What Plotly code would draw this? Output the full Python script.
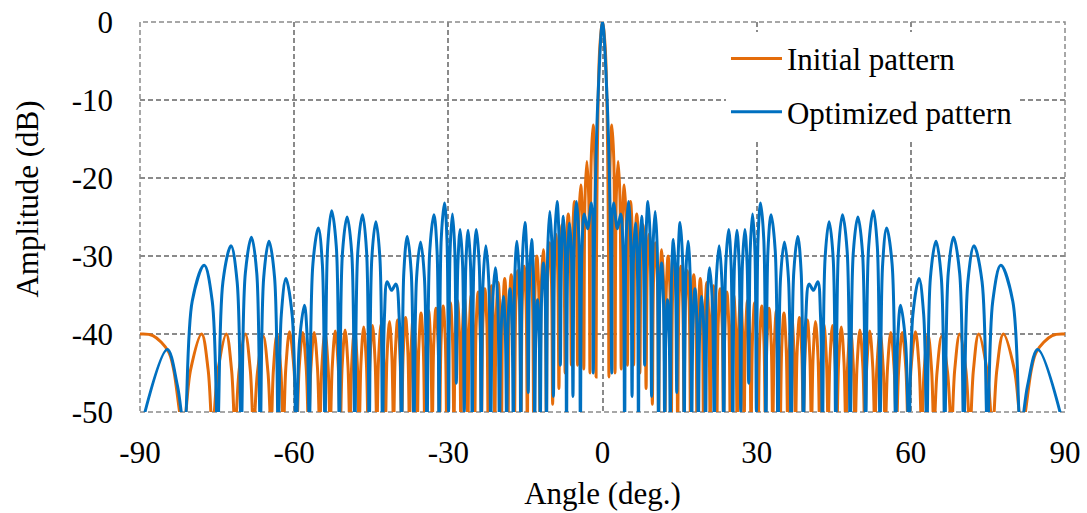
import plotly.graph_objects as go

# ---------------- Initial pattern (orange) ----------------
# lobe-by-lobe readings: shoulder, peak, shoulder, null (angles in deg., levels in dB)
init_angle_neg = [
    -90.0, -87.5, -84.5, -83.5,
    -81.6, -80.16, -78.0, -76.74,
    -75.9, -74.82, -73.2, -72.18,
    -71.5, -70.7, -69.5, -68.54,
    -67.9, -67.14, -66.0, -65.1,
    -64.5, -64.04, -63.35, -62.6,
    -62.1, -61.62, -60.9, -60.05,
    -59.49, -59.03, -58.33, -57.65,
    -57.19, -56.75, -56.1, -55.46,
    -55.03, -54.62, -54.0, -53.39,
    -52.99, -52.59, -52.0, -51.42,
    -51.04, -50.66, -50.09, -49.53,
    -49.16, -48.8, -48.25, -47.71,
    -47.35, -47.0, -46.47, -45.95,
    -45.6, -45.26, -44.75, -44.25,
    -43.91, -43.58, -43.08, -42.59,
    -42.26, -41.94, -41.45, -40.98,
    -40.66, -40.34, -39.87, -39.4,
    -39.09, -38.78, -38.32, -37.86,
    -37.56, -37.26, -36.8, -36.35,
    -36.05, -35.75, -35.31, -34.87,
    -34.58, -34.29, -33.85, -33.42,
    -33.13, -32.84, -32.41, -31.98,
    -31.7, -31.42, -31.0, -30.58,
    -30.3, -30.02, -29.6, -29.19,
    -28.91, -28.64, -28.23, -27.82,
    -27.55, -27.28, -26.87, -26.47,
    -26.2, -25.93, -25.53, -25.13,
    -24.87, -24.6, -24.2, -23.81,
    -23.55, -23.29, -22.89, -22.5,
    -22.24, -21.98, -21.59, -21.21,
    -20.95, -20.69, -20.3, -19.92,
    -19.66, -19.41, -19.03, -18.65,
    -18.39, -18.14, -17.76, -17.38,
    -17.13, -16.88, -16.5, -16.12,
    -15.87, -15.62, -15.25, -14.88,
    -14.63, -14.38, -14.0, -13.63,
    -13.38, -13.14, -12.77, -12.4,
    -12.15, -11.91, -11.54, -11.17,
    -10.92, -10.68, -10.31, -9.94,
    -9.70, -9.46, -9.09, -8.72,
    -8.48, -8.24, -7.87, -7.51,
    -7.27, -7.03, -6.66, -6.3,
    -6.06, -5.82, -5.45, -5.09,
    -4.85, -4.61, -4.24, -3.88,
    -3.64, -3.4, -3.04, -2.68,
    -2.44, -2.2, -1.83, -1.48,
    -1.25, -1.17, -1.05, -0.85, -0.5]
init_db_neg = [
    -40.0, -40.2, -42.2, -44.4,
    -52, -44.6, -40.0, -44.6,
    -52, -44.6, -40.0, -44.6,
    -52, -44.6, -40.0, -44.6,
    -52, -44.9, -40.3, -44.9,
    -52, -44.6, -40.0, -44.6,
    -52, -44.3, -39.7, -44.3,
    -52, -44.4, -39.8, -44.4,
    -52, -44.4, -39.8, -44.4,
    -52, -44.3, -39.7, -44.3,
    -52, -44.2, -39.6, -44.2,
    -52, -44.1, -39.5, -44.1,
    -52, -43.9, -39.3, -43.9,
    -52, -43.7, -39.1, -43.7,
    -52, -43.5, -38.9, -43.5,
    -52, -43.3, -38.7, -43.3,
    -52, -43.0, -38.4, -43.0,
    -52, -42.8, -38.2, -42.8,
    -52, -42.5, -37.9, -42.5,
    -52, -42.2, -37.6, -42.2,
    -52, -41.9, -37.3, -41.9,
    -52, -41.6, -37.0, -41.6,
    -52, -41.3, -36.7, -41.3,
    -52, -41.0, -36.4, -41.0,
    -52, -40.6, -36.0, -40.6,
    -52, -40.3, -35.7, -40.3,
    -52, -40.0, -35.4, -40.0,
    -52, -39.6, -35.0, -39.6,
    -52, -39.2, -34.6, -39.2,
    -52, -38.8, -34.2, -38.8,
    -52, -38.4, -33.8, -38.4,
    -52, -38.0, -33.4, -38.0,
    -52, -37.5, -32.9, -37.5,
    -52, -37.0, -32.4, -37.0,
    -52, -36.5, -31.9, -36.5,
    -52, -35.9, -31.3, -35.9,
    -52, -35.3, -30.7, -35.3,
    -52, -34.6, -30.0, -34.6,
    -52, -33.8, -29.2, -33.8,
    -51, -32.9, -28.3, -32.9,
    -49, -31.8, -27.2, -31.8,
    -47, -30.6, -26.0, -30.6,
    -45, -29.2, -24.6, -29.2,
    -44, -27.6, -23.0, -27.6,
    -44, -25.5, -20.9, -25.5,
    -44.5, -22.5, -17.9, -22.5,
    -45, -17.8, -13.2, -17.8,
    -45.5, -30, -20, -10, -3.0]
init_angle_mid = [0.0]
init_db_mid = [0.0]
init_angle_pos = [
    0.5, 0.85, 1.05, 1.17, 1.25,
    1.48, 1.83, 2.2, 2.44,
    2.68, 3.04, 3.4, 3.64,
    3.88, 4.24, 4.61, 4.85,
    5.09, 5.45, 5.82, 6.06,
    6.3, 6.66, 7.03, 7.27,
    7.51, 7.87, 8.24, 8.48,
    8.72, 9.09, 9.46, 9.70,
    9.94, 10.31, 10.68, 10.92,
    11.17, 11.54, 11.91, 12.15,
    12.4, 12.77, 13.14, 13.38,
    13.63, 14.0, 14.38, 14.63,
    14.88, 15.25, 15.62, 15.87,
    16.12, 16.5, 16.88, 17.13,
    17.38, 17.76, 18.14, 18.39,
    18.65, 19.03, 19.41, 19.66,
    19.92, 20.3, 20.69, 20.95,
    21.21, 21.59, 21.98, 22.24,
    22.5, 22.89, 23.29, 23.55,
    23.81, 24.2, 24.6, 24.87,
    25.13, 25.53, 25.93, 26.2,
    26.47, 26.87, 27.28, 27.55,
    27.82, 28.23, 28.64, 28.91,
    29.19, 29.6, 30.02, 30.3,
    30.58, 31.0, 31.42, 31.7,
    31.98, 32.41, 32.84, 33.13,
    33.42, 33.85, 34.29, 34.58,
    34.87, 35.31, 35.75, 36.05,
    36.35, 36.8, 37.26, 37.56,
    37.86, 38.32, 38.78, 39.09,
    39.4, 39.87, 40.34, 40.66,
    40.98, 41.45, 41.94, 42.26,
    42.59, 43.08, 43.58, 43.91,
    44.25, 44.75, 45.26, 45.6,
    45.95, 46.47, 47.0, 47.35,
    47.71, 48.25, 48.8, 49.16,
    49.53, 50.09, 50.66, 51.04,
    51.42, 52.0, 52.59, 52.99,
    53.39, 54.0, 54.62, 55.03,
    55.46, 56.1, 56.75, 57.19,
    57.65, 58.33, 59.03, 59.49,
    60.05, 60.9, 61.62, 62.1,
    62.6, 63.35, 64.04, 64.5,
    65.1, 66.0, 67.14, 67.9,
    68.54, 69.5, 70.7, 71.5,
    72.18, 73.2, 74.82, 75.9,
    76.74, 78.0, 80.16, 81.6,
    83.5, 84.5, 87.5, 90.0]
init_db_pos = [
    -3.0, -10, -20, -30, -45.5,
    -17.8, -13.2, -17.8, -45,
    -22.5, -17.9, -22.5, -44.5,
    -25.5, -20.9, -25.5, -44,
    -27.6, -23.0, -27.6, -44,
    -29.2, -24.6, -29.2, -45,
    -30.6, -26.0, -30.6, -47,
    -31.8, -27.2, -31.8, -49,
    -32.9, -28.3, -32.9, -51,
    -33.8, -29.2, -33.8, -52,
    -34.6, -30.0, -34.6, -52,
    -35.3, -30.7, -35.3, -52,
    -35.9, -31.3, -35.9, -52,
    -36.5, -31.9, -36.5, -52,
    -37.0, -32.4, -37.0, -52,
    -37.5, -32.9, -37.5, -52,
    -38.0, -33.4, -38.0, -52,
    -38.4, -33.8, -38.4, -52,
    -38.8, -34.2, -38.8, -52,
    -39.2, -34.6, -39.2, -52,
    -39.6, -35.0, -39.6, -52,
    -40.0, -35.4, -40.0, -52,
    -40.3, -35.7, -40.3, -52,
    -40.6, -36.0, -40.6, -52,
    -41.0, -36.4, -41.0, -52,
    -41.3, -36.7, -41.3, -52,
    -41.6, -37.0, -41.6, -52,
    -41.9, -37.3, -41.9, -52,
    -42.2, -37.6, -42.2, -52,
    -42.5, -37.9, -42.5, -52,
    -42.8, -38.2, -42.8, -52,
    -43.0, -38.4, -43.0, -52,
    -43.3, -38.7, -43.3, -52,
    -43.5, -38.9, -43.5, -52,
    -43.7, -39.1, -43.7, -52,
    -43.9, -39.3, -43.9, -52,
    -44.1, -39.5, -44.1, -52,
    -44.2, -39.6, -44.2, -52,
    -44.3, -39.7, -44.3, -52,
    -44.4, -39.8, -44.4, -52,
    -44.4, -39.8, -44.4, -52,
    -44.3, -39.7, -44.3, -52,
    -44.6, -40.0, -44.6, -52,
    -44.9, -40.3, -44.9, -52,
    -44.6, -40.0, -44.6, -52,
    -44.6, -40.0, -44.6, -52,
    -44.6, -40.0, -44.6, -52,
    -44.4, -42.2, -40.2, -40.0]

# ---------------- Optimized pattern (blue) ----------------
opt_angle_neg = [
    -90.0, -84.7, -82.72,
    -81.4, -79.84, -77.5, -75.94,
    -74.9, -73.86, -72.3, -71.1,
    -70.3, -69.5, -68.3, -67.28,
    -66.6, -65.92, -64.9, -63.82,
    -63.1, -62.5, -61.6, -60.4,
    -59.6, -58.96, -58.0, -57.43,
    -57.05, -56.35, -55.3, -54.52,
    -54.0, -53.48, -52.7, -51.8,
    -51.2, -50.6, -49.7, -48.8,
    -48.2, -47.6, -46.7, -45.92,
    -45.4, -44.88, -44.1, -43.32,
    -42.8, -42.44, -41.9, -41.05, -40.2, -39.54,
    -39.1, -38.66, -38.0, -37.22,
    -36.7, -36.18, -35.4, -34.65,
    -34.15, -33.61, -32.8, -32.2,
    -31.8, -31.38, -30.75, -30.27,
    -29.95, -29.65, -29.2, -28.75,
    -28.45, -28.15, -27.7, -27.22,
    -26.9, -26.6, -26.15, -25.67,
    -25.35, -25.03, -24.55, -23.98,
    -23.6, -23.24, -22.7, -22.13,
    -21.75, -21.39, -20.85, -20.37,
    -20.05, -19.75, -19.3, -18.91,
    -18.65, -18.39, -18.0, -17.61,
    -17.35, -17.07, -16.65, -16.2,
    -15.9, -15.58, -15.1, -14.71,
    -14.45, -14.19, -13.8, -13.44,
    -13.2, -12.98, -12.65, -12.32,
    -12.1, -11.86, -11.5, -11.14,
    -10.9, -10.64, -10.25, -9.83,
    -9.55, -9.27, -8.85, -8.46,
    -8.2, -7.96, -7.6, -7.24,
    -7.0, -6.76, -6.4, -6.01,
    -5.75, -5.47, -5.05, -4.6,
    -4.3, -4.0, -3.55, -2.9, -2.15,
    -1.8, -1.6, -1.35, -0.9]
opt_db_neg = [
    -52.5, -42.0, -46.6,
    -52, -35.8, -31.2, -35.8,
    -52, -33.3, -28.7, -33.3,
    -52, -32.2, -27.6, -32.2,
    -52, -32.7, -28.1, -32.7,
    -52, -37.5, -32.9, -37.5,
    -52, -40.9, -36.3, -40.9,
    -52, -31.0, -26.4, -31.0,
    -52, -28.8, -24.2, -28.8,
    -52, -29.6, -25.0, -29.6,
    -52, -29.3, -24.7, -29.3,
    -52, -30.2, -25.6, -30.2,
    -52, -37.9, -33.3, -34.4, -33.6, -38.2,
    -52, -32.1, -27.5, -32.1,
    -52, -32.8, -28.2, -32.8,
    -52, -29.3, -24.7, -29.3,
    -52, -27.8, -23.2, -27.8,
    -50, -29.2, -24.6, -29.2,
    -46.3, -31.2, -26.6, -31.2,
    -50, -31.3, -26.7, -31.3,
    -52, -31.2, -26.6, -31.2,
    -52, -33.3, -28.7, -33.3,
    -52, -36.1, -31.5, -36.1,
    -52, -39.8, -35.2, -39.8,
    -52, -38.8, -34.2, -38.8,
    -52, -32.7, -28.1, -32.7,
    -52, -30.3, -25.7, -30.3,
    -47.5, -32.5, -27.9, -32.5,
    -52, -40.2, -35.6, -40.2,
    -51, -35.5, -30.9, -35.5,
    -52, -28.9, -24.3, -28.9,
    -48, -27.6, -23.0, -27.6,
    -44, -29.5, -24.9, -29.5,
    -52, -30.4, -25.8, -30.4,
    -48, -27.6, -23.0, -27.6,
    -52, -29.2, -24.6, -26.5, -23.2,
    -45, -30, -20, -10]
opt_angle_mid = [0.0]
opt_db_mid = [0.0]
opt_angle_pos = [
    0.9, 1.35, 1.6, 1.8,
    2.15, 2.9, 3.55, 4.0, 4.3,
    4.6, 5.05, 5.47, 5.75,
    6.01, 6.4, 6.76, 7.0,
    7.24, 7.6, 7.96, 8.2,
    8.46, 8.85, 9.27, 9.55,
    9.83, 10.25, 10.64, 10.9,
    11.14, 11.5, 11.86, 12.1,
    12.32, 12.65, 12.98, 13.2,
    13.44, 13.8, 14.19, 14.45,
    14.71, 15.1, 15.58, 15.9,
    16.2, 16.65, 17.07, 17.35,
    17.61, 18.0, 18.39, 18.65,
    18.91, 19.3, 19.75, 20.05,
    20.37, 20.85, 21.39, 21.75,
    22.13, 22.7, 23.24, 23.6,
    23.98, 24.55, 25.03, 25.35,
    25.67, 26.15, 26.6, 26.9,
    27.22, 27.7, 28.15, 28.45,
    28.75, 29.2, 29.65, 29.95,
    30.27, 30.75, 31.38, 31.8,
    32.2, 32.8, 33.61, 34.15,
    34.65, 35.4, 36.18, 36.7,
    37.22, 38.0, 38.66, 39.1,
    39.54, 40.2, 41.05, 41.9, 42.44, 42.8,
    43.32, 44.1, 44.88, 45.4,
    45.92, 46.7, 47.6, 48.2,
    48.8, 49.7, 50.6, 51.2,
    51.8, 52.7, 53.48, 54.0,
    54.52, 55.3, 56.35, 57.05,
    57.43, 58.0, 58.96, 59.6,
    60.4, 61.6, 62.5, 63.1,
    63.82, 64.9, 65.92, 66.6,
    67.28, 68.3, 69.5, 70.3,
    71.1, 72.3, 73.86, 74.9,
    75.94, 77.5, 79.84, 81.4,
    82.72, 84.7, 90.0]
opt_db_pos = [
    -10, -20, -30, -45,
    -23.2, -26.5, -24.6, -29.2, -52,
    -27.6, -23.0, -27.6, -48,
    -30.4, -25.8, -30.4, -52,
    -29.5, -24.9, -29.5, -44,
    -27.6, -23.0, -27.6, -48,
    -28.9, -24.3, -28.9, -52,
    -35.5, -30.9, -35.5, -51,
    -40.2, -35.6, -40.2, -52,
    -32.5, -27.9, -32.5, -47.5,
    -30.3, -25.7, -30.3, -52,
    -32.7, -28.1, -32.7, -52,
    -38.8, -34.2, -38.8, -52,
    -39.8, -35.2, -39.8, -52,
    -36.1, -31.5, -36.1, -52,
    -33.3, -28.7, -33.3, -52,
    -31.2, -26.6, -31.2, -52,
    -31.3, -26.7, -31.3, -50,
    -31.2, -26.6, -31.2, -46.3,
    -29.2, -24.6, -29.2, -50,
    -27.8, -23.2, -27.8, -52,
    -29.3, -24.7, -29.3, -52,
    -32.8, -28.2, -32.8, -52,
    -32.1, -27.5, -32.1, -52,
    -38.2, -33.6, -34.4, -33.3, -37.9, -52,
    -30.2, -25.6, -30.2, -52,
    -29.3, -24.7, -29.3, -52,
    -29.6, -25.0, -29.6, -52,
    -28.8, -24.2, -28.8, -52,
    -31.0, -26.4, -31.0, -52,
    -40.9, -36.3, -40.9, -52,
    -37.5, -32.9, -37.5, -52,
    -32.7, -28.1, -32.7, -52,
    -32.2, -27.6, -32.2, -52,
    -33.3, -28.7, -33.3, -52,
    -35.8, -31.2, -35.8, -52,
    -46.6, -42.0, -52.5]

x_ticks = [-90, -60, -30, 0, 30, 60, 90]
y_ticks = [0, -10, -20, -30, -40, -50]
series_names = ["Initial pattern", "Optimized pattern"]

init_angle = init_angle_neg + init_angle_mid + init_angle_pos
init_db = init_db_neg + init_db_mid + init_db_pos
opt_angle = opt_angle_neg + opt_angle_mid + opt_angle_pos
opt_db = opt_db_neg + opt_db_mid + opt_db_pos

FONT = "Liberation Serif, Times New Roman, serif"
GRID = "#8a8a8a"

fig = go.Figure()
fig.add_trace(go.Scatter(
    x=init_angle, y=init_db, mode="lines", name=series_names[0],
    legendgroup="a",
    line=dict(color="#E46C0A", width=3, shape="spline", smoothing=1.0)))
fig.add_trace(go.Scatter(
    x=opt_angle, y=opt_db, mode="lines", name=series_names[1],
    legendgroup="b",
    line=dict(color="#0070C0", width=3, shape="spline", smoothing=1.0)))

axis_common = dict(
    showgrid=True, gridcolor=GRID, gridwidth=1.5, griddash="5px,3px",
    zeroline=False, showline=False, ticks="",
    tickfont=dict(family=FONT, size=31, color="black"),
)

# dashed frame around the plotting area (edge grid lines)
fig.add_shape(type="rect", xref="paper", yref="paper", x0=0, x1=1, y0=0, y1=1,
              line=dict(color=GRID, width=1.5, dash="5px,3px"), layer="below")
# white backing of the legend box (hides grid lines behind it)
fig.add_shape(type="rect", xref="paper", yref="paper",
              x0=0.6032, x1=0.9805, y0=0.7026, y1=0.974,
              line=dict(width=0), fillcolor="white", layer="between")

fig.update_layout(
    width=1087, height=513,
    margin=dict(l=140, r=22, t=22, b=101, autoexpand=False),
    paper_bgcolor="white", plot_bgcolor="white",
    font=dict(family=FONT, size=31, color="black"),
    xaxis=dict(range=[-90, 90], tickvals=x_ticks,
               ticktext=[str(v) for v in x_ticks],
               ticklabelstandoff=19,
               title=dict(text="Angle (deg.)", standoff=13,
                          font=dict(family=FONT, size=31, color="black")),
               automargin=False, **axis_common),
    yaxis=dict(range=[-50, 0], tickvals=y_ticks,
               ticktext=[str(v) for v in y_ticks],
               ticklabelstandoff=26,
               automargin=False, **axis_common),
    legend=dict(x=0.6335, y=0.975, xanchor="left", yanchor="top",
                bgcolor="white", borderwidth=0,
                font=dict(family=FONT, size=31, color="black"),
                tracegroupgap=10, itemwidth=51),
    showlegend=True,
    annotations=[dict(text="Amplitude (dB)", textangle=-90, showarrow=False,
                      xref="paper", yref="paper", x=-0.122, y=0.545,
                      xanchor="center", yanchor="middle",
                      font=dict(family=FONT, size=31, color="black"))],
)

fig.write_html("out.html",
               config={"displayModeBar": False},
               post_script="document.body.style.margin='0px';"
                           "document.body.style.overflow='hidden';")
